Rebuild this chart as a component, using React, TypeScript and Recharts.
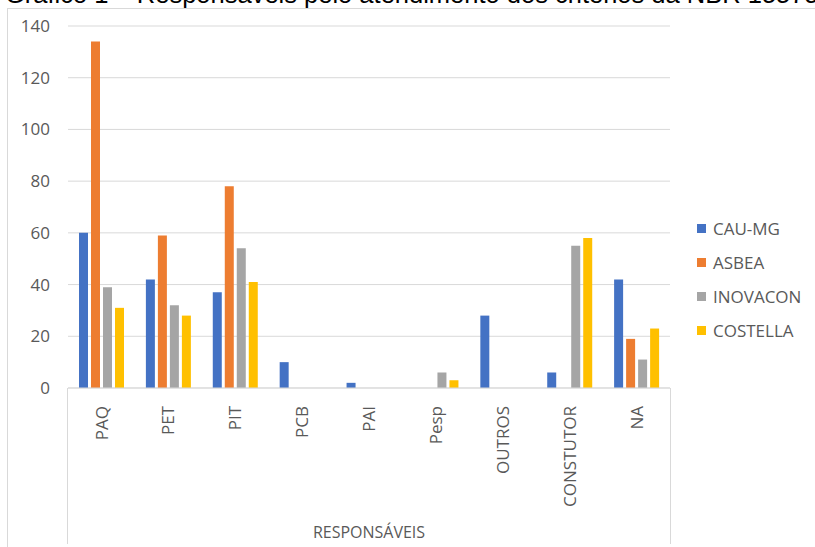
import { BarChart, Bar, XAxis, YAxis, CartesianGrid } from "recharts";

const categories = ["PAQ", "PET", "PIT", "PCB", "PAI", "Pesp", "OUTROS", "CONSTUTOR", "NA"];
const cauMg = [60, 42, 37, 10, 2, 0, 28, 6, 42];
const asbea = [134, 59, 78, 0, 0, 0, 0, 0, 19];
const inovacon = [39, 32, 54, 0, 0, 6, 0, 55, 11];
const costella = [31, 28, 41, 0, 0, 3, 0, 58, 23];
const yTicks = [0, 20, 40, 60, 80, 100, 120, 140];

const series = [
	{ key: "CAU-MG", values: cauMg, color: "#4472C4" },
	{ key: "ASBEA", values: asbea, color: "#ED7D31" },
	{ key: "INOVACON", values: inovacon, color: "#A5A5A5" },
	{ key: "COSTELLA", values: costella, color: "#FFC000" },
];

const data = categories.map((name, i) => {
	const row: Record<string, string | number> = { name };
	series.forEach((s) => {
		row[s.key] = s.values[i];
	});
	return row;
});

const FONT = "'Open Sans', sans-serif";
const FONT_SIZE = 17;
const TEXT = "#595959";
const GRID = "#D9D9D9";

const W = 815;
const H = 547;
const PLOT_LEFT = 68;
const PLOT_RIGHT = 670;
const PLOT_TOP = 26;
const PLOT_BOTTOM = 388;

const CategoryTick = (props: any) => {
	const { x, y, payload } = props;
	const ty = y + 10;
	return (
		<text
			x={x}
			y={ty}
			dy="0.36em"
			transform={`rotate(-90, ${x}, ${ty})`}
			textAnchor="end"
			fill={TEXT}
			fontSize={FONT_SIZE}
			fontFamily={FONT}
		>
			{payload.value}
		</text>
	);
};

// legend kept outside the chart so it doesn't eat into the plot area
const SeriesLegend = () => (
	<div style={{ position: "absolute", left: 697, top: 211 }}>
		{series.map((s) => (
			<div
				key={s.key}
				style={{
					display: "flex",
					alignItems: "center",
					height: 34,
					fontFamily: FONT,
					fontSize: FONT_SIZE,
					color: TEXT,
					whiteSpace: "nowrap",
				}}
			>
				<span
					style={{
						width: 9,
						height: 9,
						background: s.color,
						marginRight: 7,
						display: "inline-block",
					}}
				/>
				{s.key}
			</div>
		))}
	</div>
);

export default function App() {
	return (
		<div
			style={{
				position: "absolute",
				left: 0,
				top: 0,
				width: W,
				height: H,
				overflow: "hidden",
				background: "#fff",
			}}
		>
			<div
				style={{
					position: "absolute",
					left: 5,
					top: -18,
					whiteSpace: "nowrap",
					fontFamily: "'Liberation Sans', Arial, sans-serif",
					fontSize: 25.5,
					lineHeight: "25px",
					color: "#000",
				}}
			>
				Gráfico 1 – Responsáveis pelo atendimento dos critérios da NBR 15575
			</div>
			{/* chart area border */}
			<div
				style={{
					position: "absolute",
					left: 7,
					top: 8,
					width: W,
					height: H,
					borderLeft: `1px solid ${GRID}`,
					borderTop: `1px solid ${GRID}`,
				}}
			/>
			{/* category axis box */}
			<div
				style={{
					position: "absolute",
					left: PLOT_LEFT - 1,
					top: PLOT_BOTTOM,
					width: PLOT_RIGHT - PLOT_LEFT,
					height: H - PLOT_BOTTOM - 3,
					borderLeft: `1px solid ${GRID}`,
					borderRight: `1px solid ${GRID}`,
				}}
			/>
			<div style={{ position: "absolute", left: 0, top: 0 }}>
				<BarChart
					width={W}
					height={H}
					data={data}
					margin={{ top: PLOT_TOP, right: W - PLOT_RIGHT, bottom: 0, left: PLOT_LEFT - 50 }}
					barGap={3}
					barSize={9}
				>
					<CartesianGrid vertical={false} stroke={GRID} />
					<XAxis
						dataKey="name"
						interval={0}
						height={H - PLOT_BOTTOM}
						axisLine={{ stroke: GRID }}
						tickLine={false}
						tick={<CategoryTick />}
						label={{
							value: "RESPONSÁVEIS",
							position: "insideBottom",
							offset: 9,
							fill: TEXT,
							fontSize: 16,
							fontFamily: FONT,
						}}
					/>
					<YAxis
						width={50}
						domain={[0, 140]}
						ticks={yTicks}
						axisLine={false}
						tickLine={false}
						tickSize={0}
						tickMargin={18}
						tick={{ fill: TEXT, fontSize: FONT_SIZE, fontFamily: FONT }}
					/>
					{series.map((s) => (
						<Bar key={s.key} dataKey={s.key} fill={s.color} isAnimationActive={false} />
					))}
				</BarChart>
			</div>
			<SeriesLegend />
		</div>
	);
}
